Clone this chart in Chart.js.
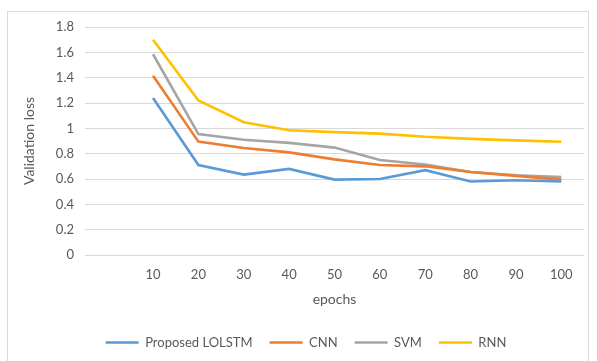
<!DOCTYPE html>
<html>
<head>
<meta charset="utf-8">
<script src="https://cdn.jsdelivr.net/npm/chart.js@4/dist/chart.umd.min.js"></script>
<style>
  html, body { margin: 0; padding: 0; background: #fff; }
  #wrap { width: 597px; height: 361px; position: relative; }
</style>
</head>
<body>
<div id="wrap"><canvas id="lossChart"></canvas></div>
<script>
// epochs on the x axis (the first slot is left empty, as in the original)
const epochs = ['10', '20', '30', '40', '50', '60', '70', '80', '90', '100'];

const lolstmLoss = [1.24, 0.71, 0.635, 0.68, 0.595, 0.60, 0.67, 0.58, 0.59, 0.58];
const cnnLoss    = [1.415, 0.895, 0.845, 0.81, 0.755, 0.71, 0.70, 0.655, 0.625, 0.595];
const svmLoss    = [1.585, 0.955, 0.91, 0.885, 0.848, 0.75, 0.715, 0.655, 0.63, 0.615];
const rnnLoss    = [1.70, 1.22, 1.048, 0.985, 0.97, 0.958, 0.933, 0.917, 0.905, 0.894];

const yMin = 0, yMax = 1.8, yStep = 0.2;

const textColor = '#595959';
const fontFamily = 'Lato, "Open Sans", sans-serif';

function series(label, values, color) {
    return {
        label: label,
        data: [null].concat(values),
        borderColor: color,
        backgroundColor: color,
        borderWidth: 2.6,
        pointRadius: 0,
        tension: 0,
        fill: false
    };
}

const frame = {
    id: 'frame',
    beforeDraw(chart) {
        const ctx = chart.ctx;
        ctx.save();
        ctx.fillStyle = '#ffffff';
        ctx.fillRect(0, 0, chart.width, chart.height);
        ctx.strokeStyle = '#d9d9d9';
        ctx.lineWidth = 1;
        ctx.strokeRect(7.5, 11.5, 581, 360);
        ctx.restore();
    }
};

const ctx = document.getElementById('lossChart').getContext('2d');
new Chart(ctx, {
    type: 'line',
    data: {
        labels: [''].concat(epochs),
        datasets: [
            series('Proposed LOLSTM', lolstmLoss, '#5b9bd5'),
            series('CNN', cnnLoss, '#ed7d31'),
            series('SVM', svmLoss, '#a5a5a5'),
            series('RNN', rnnLoss, '#ffc000')
        ]
    },
    options: {
        responsive: true,
        maintainAspectRatio: false,
        animation: false,
        layout: {
            padding: { top: 27, right: 13, bottom: 2, left: 28 }
        },
        plugins: {
            legend: {
                position: 'bottom',
                labels: {
                    boxWidth: 33,
                    boxHeight: 0,
                    padding: 17,
                    color: textColor,
                    font: { family: fontFamily, size: 13 }
                }
            },
            tooltip: { enabled: false }
        },
        scales: {
            x: {
                offset: true,
                grid: { display: false, drawTicks: false },
                border: { display: false },
                ticks: {
                    padding: 12,
                    maxRotation: 0,
                    autoSkip: false,
                    color: textColor,
                    font: { family: fontFamily, size: 13 }
                },
                title: {
                    display: true,
                    text: 'epochs',
                    color: textColor,
                    padding: { top: 4, bottom: 11.5 },
                    font: { family: fontFamily, size: 14 }
                },
                afterFit: function(scale) {
                    scale.height = 64;
                }
            },
            y: {
                min: yMin,
                max: yMax,
                grid: { color: '#d9d9d9', drawTicks: false },
                border: { display: false },
                ticks: {
                    stepSize: yStep,
                    padding: 11,
                    color: textColor,
                    font: { family: fontFamily, size: 13 },
                    callback: function(value) {
                        return String(Math.round(value * 10) / 10);
                    }
                },
                title: {
                    display: true,
                    text: 'Validation loss',
                    color: textColor,
                    padding: { top: -7.4, bottom: 0 },
                    font: { family: fontFamily, size: 14 }
                },
                afterFit: function(scale) {
                    scale.width = 57;
                }
            }
        }
    },
    plugins: [frame]
});
</script>
</body>
</html>
